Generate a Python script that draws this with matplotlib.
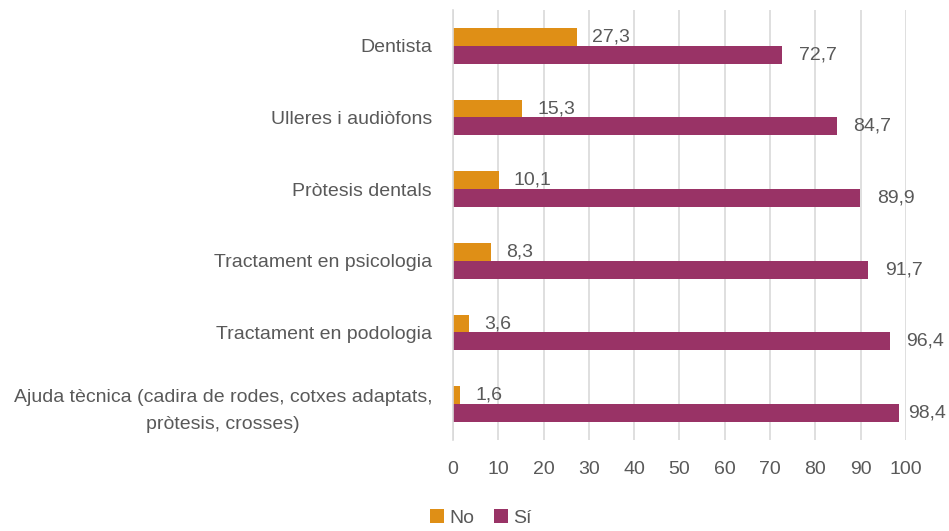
import matplotlib
matplotlib.use("Agg")
import matplotlib.pyplot as plt
from matplotlib import font_manager
import numpy as np

categories = ["Dentista", "Ulleres i audiòfons", "Pròtesis dentals",
              "Tractament en psicologia", "Tractament en podologia",
              "Ajuda tècnica (cadira de rodes, cotxes adaptats,\npròtesis, crosses)"]
no_vals = [27.3, 15.3, 10.1, 8.3, 3.6, 1.6]
si_vals = [72.7, 84.7, 89.9, 91.7, 96.4, 98.4]
xticks = [0, 10, 20, 30, 40, 50, 60, 70, 80, 90, 100]

names = {f.name for f in font_manager.fontManager.ttflist}
fam = [f for f in ["Liberation Sans Narrow", "Liberation Sans", "DejaVu Sans"] if f in names]
plt.rcParams['font.family'] = fam

C_NO = "#DF8F16"
C_SI = "#993366"
TXT = "#595959"

fig = plt.figure(figsize=(9.49, 5.31), dpi=100)
ax = fig.add_axes([0.4773, 0.1714, 0.4774, 0.8098])

n = len(categories)
y = np.arange(n)
h = 0.25
ax.barh(y - h/2, no_vals, height=h, color=C_NO, label="No")
ax.barh(y + h/2, si_vals, height=h, color=C_SI, label="Sí")

labels = []
for yi, v in zip(y, no_vals):
    t = ax.annotate(f"{v:.1f}".replace(".", ","), (v, yi - h/2), xytext=(11, 0),
                    textcoords="offset points", va="center", ha="left",
                    fontsize=14, color=TXT)
    labels.append(t)
for yi, v in zip(y, si_vals):
    t = ax.annotate(f"{v:.1f}".replace(".", ","), (v, yi + h/2), xytext=(12, 0),
                    textcoords="offset points", va="center", ha="left",
                    fontsize=14, color=TXT)
    labels.append(t)

ax.set_ylim(n - 0.5, -0.5)
ax.set_xlim(0, 100)
ax.set_xticks(xticks)
ax.set_xticklabels([str(t) for t in xticks], fontsize=14, color=TXT)
ax.set_yticks(y)
ax.set_yticklabels(categories, fontsize=14, color=TXT, linespacing=1.75)
for lab in ax.get_yticklabels():
    lab.set_multialignment("center")
ax.tick_params(axis="y", length=0, pad=15)
ax.tick_params(axis="x", length=0, pad=15)

ax.grid(axis="x", color="#D9D9D9", linewidth=1.2)
ax.set_axisbelow(True)
for s in ["top", "right", "bottom"]:
    ax.spines[s].set_visible(False)
ax.spines["left"].set_color("#D9D9D9")
ax.spines["left"].set_linewidth(1.2)

leg = fig.legend(loc="center", bbox_to_anchor=(0.507, 0.024), ncol=2, frameon=False,
                 fontsize=14, handlelength=0.7, handleheight=0.7, handletextpad=0.3,
                 columnspacing=1.0)
for t in leg.get_texts():
    t.set_color(TXT)

# keep value labels inside the figure
fig.canvas.draw()
r = fig.canvas.get_renderer()
W = fig.bbox.width
for t in labels:
    bb = t.get_window_extent(r)
    if bb.x1 > W - 3:
        shift = bb.x1 - (W - 3)
        ox, oy = t.xyann
        t.xyann = (ox - shift * 72 / fig.dpi, oy)

fig.savefig("out.png", dpi=100)
